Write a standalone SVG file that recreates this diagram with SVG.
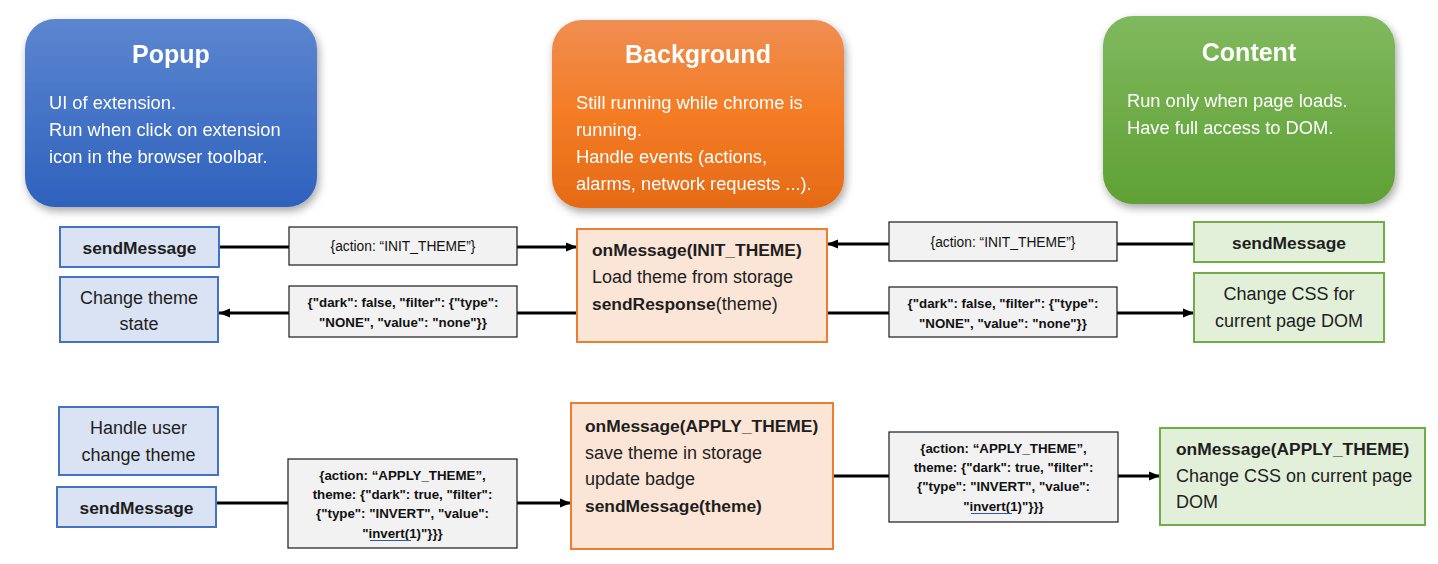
<svg xmlns="http://www.w3.org/2000/svg" width="1438" height="564" viewBox="0 0 1438 564">
<defs>
  <linearGradient id="gBlue" x1="0" y1="0" x2="0" y2="1">
    <stop offset="0" stop-color="#5C86D0"/>
    <stop offset="1" stop-color="#2E61BD"/>
  </linearGradient>
  <linearGradient id="gOrange" x1="0" y1="0" x2="0" y2="1">
    <stop offset="0" stop-color="#F08E52"/>
    <stop offset="0.5" stop-color="#F47C24"/>
    <stop offset="1" stop-color="#E56A16"/>
  </linearGradient>
  <linearGradient id="gGreen" x1="0" y1="0" x2="0" y2="1">
    <stop offset="0" stop-color="#80B95E"/>
    <stop offset="1" stop-color="#5FA135"/>
  </linearGradient>
  <filter id="shadow" x="-10%" y="-10%" width="125%" height="130%">
    <feDropShadow dx="2" dy="4" stdDeviation="4" flood-color="#000" flood-opacity="0.35"/>
  </filter>
  <marker id="arrow" markerUnits="userSpaceOnUse" markerWidth="12" markerHeight="10" refX="11" refY="5" orient="auto">
    <path d="M0,0.5 L11,5 L0,9.5 z" fill="#000"/>
  </marker>
</defs>
<style>
  text { font-family: "Liberation Sans", Arial, sans-serif; }
  .title { font-size: 25px; font-weight: bold; fill: #fff; text-anchor: middle; }
  .desc { font-size: 18.3px; fill: #fff; }
  .node { font-size: 18px; fill: #1e1e1e; }
  .nc { text-anchor: middle; }
  .b { font-weight: bold; font-size: 17.4px; }
  .lbl { font-size: 13.8px; fill: #111; text-anchor: middle; }
  .lblb { font-size: 13.3px; font-weight: bold; fill: #111; text-anchor: middle; }
  .blue { fill: #DAE3F3; stroke: #4472C4; stroke-width: 2; }
  .orange { fill: #FBE5D6; stroke: #ED7D31; stroke-width: 2; }
  .green { fill: #E2F0D9; stroke: #70AD47; stroke-width: 2; }
  .lbox { fill: #F2F2F2; stroke: #1a1a1a; stroke-width: 1.2; }
  .conn { stroke: #000; stroke-width: 3; fill: none; }
  .ul { stroke: #2E5AAC; stroke-width: 1; }
</style>

<g id="popup-header" filter="url(#shadow)">
  <rect x="25" y="19" width="292" height="188" rx="30" fill="url(#gBlue)"/>
  <text class="title" x="171" y="63">Popup</text>
  <text class="desc" x="49" y="109">UI of extension.</text>
  <text class="desc" x="49" y="136">Run when click on extension</text>
  <text class="desc" x="49" y="163">icon in the browser toolbar.</text>
</g>

<g id="background-header" filter="url(#shadow)">
  <rect x="552" y="20" width="292" height="188" rx="30" fill="url(#gOrange)"/>
  <text class="title" x="698" y="63">Background</text>
  <text class="desc" x="576" y="109">Still running while chrome is</text>
  <text class="desc" x="576" y="136">running.</text>
  <text class="desc" x="576" y="163">Handle events (actions,</text>
  <text class="desc" x="576" y="190">alarms, network requests ...).</text>
</g>

<g id="content-header" filter="url(#shadow)">
  <rect x="1103" y="16" width="292" height="188" rx="30" fill="url(#gGreen)"/>
  <text class="title" x="1249" y="61">Content</text>
  <text class="desc" x="1127" y="107">Run only when page loads.</text>
  <text class="desc" x="1127" y="134">Have full access to DOM.</text>
</g>

<g id="connectors">
  <path class="conn" d="M219,247 L577,247" marker-end="url(#arrow)"/>
  <path class="conn" d="M577,313 L219,313" marker-end="url(#arrow)"/>
  <path class="conn" d="M1194,244 L827,244" marker-end="url(#arrow)"/>
  <path class="conn" d="M827,313 L1194,313" marker-end="url(#arrow)"/>
  <path class="conn" d="M216,503 L571,503" marker-end="url(#arrow)"/>
  <path class="conn" d="M833,476 L1160,476" marker-end="url(#arrow)"/>
</g>

<g id="popup-send-init">
  <rect class="blue" x="60" y="227" width="159" height="40"/>
  <text class="node nc b" x="139.5" y="254">sendMessage</text>
</g>

<g id="popup-change-state">
  <rect class="blue" x="60" y="277" width="158" height="65"/>
  <text class="node nc" x="139" y="304">Change theme</text>
  <text class="node nc" x="139" y="330">state</text>
</g>

<g id="label-init-left">
  <rect class="lbox" x="289" y="227" width="228" height="38"/>
  <text class="lbl" x="403" y="251">{action: “INIT_THEME”}</text>
</g>

<g id="label-theme-left">
  <rect class="lbox" x="289" y="286" width="228" height="51"/>
  <text class="lblb" x="403" y="307">{"dark": false, "filter": {"type":</text>
  <text class="lblb" x="403" y="327">"NONE", "value": "none"}}</text>
</g>

<g id="bg-on-init">
  <rect class="orange" x="577" y="229" width="250" height="113"/>
  <text class="node b" x="592" y="256">onMessage(INIT_THEME)</text>
  <text class="node" x="592" y="283">Load theme from storage</text>
  <text class="node" x="592" y="310"><tspan class="b">sendResponse</tspan>(theme)</text>
</g>

<g id="label-init-right">
  <rect class="lbox" x="889" y="222" width="228" height="39"/>
  <text class="lbl" x="1003" y="247">{action: “INIT_THEME”}</text>
</g>

<g id="label-theme-right">
  <rect class="lbox" x="889" y="287" width="228" height="50"/>
  <text class="lblb" x="1003" y="308">{"dark": false, "filter": {"type":</text>
  <text class="lblb" x="1003" y="328">"NONE", "value": "none"}}</text>
</g>

<g id="content-send-init">
  <rect class="green" x="1194" y="222" width="190" height="40"/>
  <text class="node nc b" x="1289" y="249">sendMessage</text>
</g>

<g id="content-change-css">
  <rect class="green" x="1194" y="273" width="190" height="69"/>
  <text class="node nc" x="1289" y="300">Change CSS for</text>
  <text class="node nc" x="1289" y="327">current page DOM</text>
</g>

<g id="popup-handle-user">
  <rect class="blue" x="59" y="407" width="159" height="68"/>
  <text class="node nc" x="138.5" y="434">Handle user</text>
  <text class="node nc" x="138.5" y="461">change theme</text>
</g>

<g id="popup-send-apply">
  <rect class="blue" x="57" y="487" width="159" height="40"/>
  <text class="node nc b" x="136.5" y="514">sendMessage</text>
</g>

<g id="label-apply-left">
  <rect class="lbox" x="288" y="459" width="229" height="89"/>
  <text class="lblb" x="402.5" y="480">{action: “APPLY_THEME”,</text>
  <text class="lblb" x="402.5" y="499">theme: {"dark": true, "filter":</text>
  <text class="lblb" x="402.5" y="518">{"type": "INVERT", "value":</text>
  <text class="lblb" x="402.5" y="538">"invert(1)"}}}</text>
  <line class="ul" x1="370" y1="540.5" x2="411" y2="540.5"/>
</g>

<g id="bg-on-apply">
  <rect class="orange" x="571" y="403" width="262" height="146"/>
  <text class="node b" x="585" y="432">onMessage(APPLY_THEME)</text>
  <text class="node" x="585" y="459">save theme in storage</text>
  <text class="node" x="585" y="485">update badge</text>
  <text class="node b" x="585" y="512">sendMessage(theme)</text>
</g>

<g id="label-apply-right">
  <rect class="lbox" x="889" y="432" width="229" height="90"/>
  <text class="lblb" x="1003.5" y="453">{action: “APPLY_THEME”,</text>
  <text class="lblb" x="1003.5" y="472">theme: {"dark": true, "filter":</text>
  <text class="lblb" x="1003.5" y="491">{"type": "INVERT", "value":</text>
  <text class="lblb" x="1003.5" y="511">"invert(1)"}}}</text>
  <line class="ul" x1="971" y1="513.5" x2="1012" y2="513.5"/>
</g>

<g id="content-on-apply">
  <rect class="green" x="1160" y="428" width="265" height="97"/>
  <text class="node b" x="1176" y="455">onMessage(APPLY_THEME)</text>
  <text class="node" x="1176" y="482">Change CSS on current page</text>
  <text class="node" x="1176" y="508">DOM</text>
</g>
</svg>
